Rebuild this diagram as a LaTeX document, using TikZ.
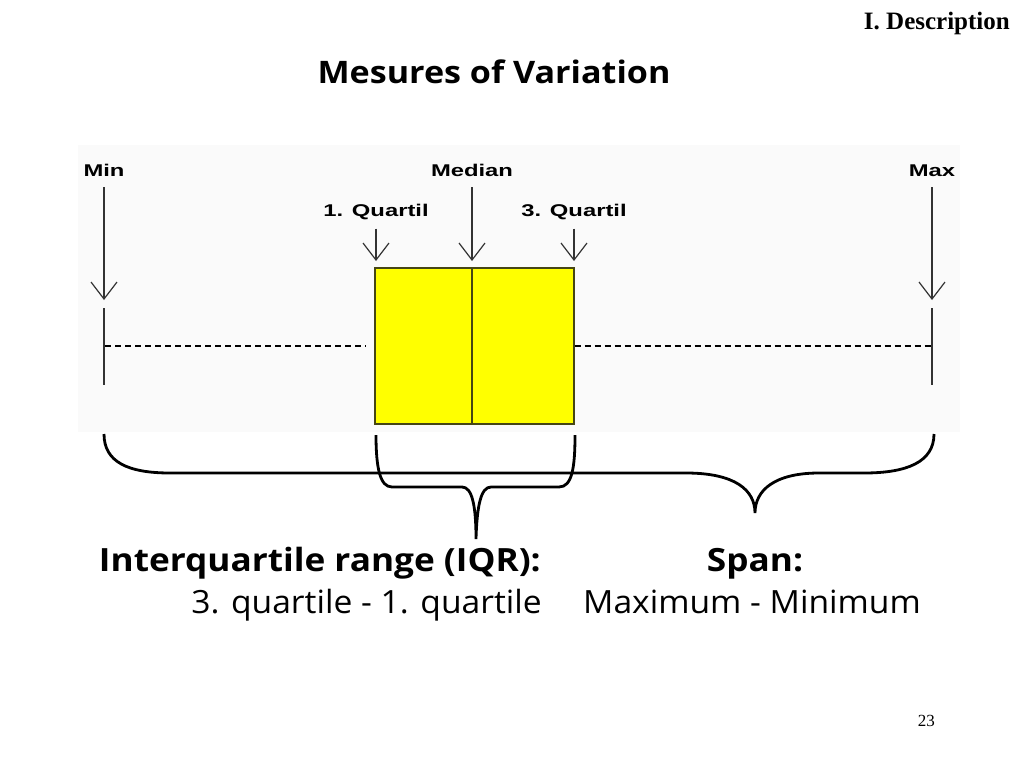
\documentclass[tikz,border=0pt]{standalone}
\usepackage{fontspec}
\setmainfont{Open Sans}
\newfontfamily\headfont[FakeStretch=1.1]{Open Sans}
\newfontfamily\bodyfont[FakeStretch=1.05]{Open Sans}
\newfontfamily\plotfont[FakeStretch=1.4]{Liberation Sans}
\newfontfamily\timesfont{Liberation Serif}
\usetikzlibrary{arrows.meta}
\definecolor{boxyellow}{RGB}{255,255,0}
\definecolor{boxline}{RGB}{70,70,20}
\tikzset{
  plotlabel/.style={font=\plotfont\bfseries\fontsize{17}{19}\selectfont, inner sep=0pt},
  pointer/.style={draw=black!80, line width=1.2pt, -{Straight Barb[length=17pt,width=26pt,line width=1.2pt]}},
  whisker/.style={draw=black!80, line width=1.4pt},
  brace/.style={draw=black, line width=2.8pt},
  bigtext/.style={font=\headfont\bfseries\fontsize{32}{36}\selectfont, inner sep=0pt},
  normtext/.style={font=\bodyfont\fontsize{32}{36}\selectfont, inner sep=0pt}
}
\begin{document}
\begin{tikzpicture}[x=1pt,y=-1pt]
    \useasboundingbox (0,0) rectangle (1024,768);
    % Hintergrund
    \fill[black!2] (78,145) rectangle (960,432);
    % Ueberschriften
    \node[font=\timesfont\bfseries\fontsize{25}{27}\selectfont, inner sep=0pt, anchor=base east] (chap) at (1010,30) {I. Description};
    \node[font=\headfont\bfseries\fontsize{31}{35}\selectfont, inner sep=0pt, anchor=base] (title) at (494,83) {Mesures of Variation};
    \node[font=\timesfont\fontsize{17}{19}\selectfont, inner sep=0pt, anchor=base east] (page) at (935,726) {23};
    % Beschriftungen
    \node[plotlabel, anchor=base] (min) at (104,176) {Min};
    \node[plotlabel, anchor=base] (med) at (472,176) {Median};
    \node[plotlabel, anchor=base] (q1) at (376,216) {1. Quartil};
    \node[plotlabel, anchor=base] (q3) at (574,216) {3. Quartil};
    \node[plotlabel, anchor=base] (max) at (932,176) {Max};
    % Pfeilspitzen
    \coordinate (mintip) at (104,300);
    \coordinate (medtip) at (472,261);
    \coordinate (q1tip) at (376,261);
    \coordinate (q3tip) at (574,261);
    \coordinate (maxtip) at (932,300);
    \draw[pointer] ([yshift=-11pt]min.south) -- (mintip);
    \draw[pointer] ([yshift=-11pt]med.south) -- (medtip);
    \draw[pointer] ([yshift=-9pt]q1.south) -- (q1tip);
    \draw[pointer] ([yshift=-9pt]q3.south) -- (q3tip);
    \draw[pointer] ([yshift=-11pt]max.south) -- (maxtip);
    % Box
    \node[draw=boxline, line width=1.3pt, fill=boxyellow, minimum width=199pt, minimum height=156pt, inner sep=0pt] (box) at (474.5,346) {};
    \draw[draw=boxline, line width=1.3pt] (472,268) -- (472,424);
    % Whisker
    \coordinate (minlo) at (104,385);
    \coordinate (maxlo) at (932,385);
    \coordinate (dashl) at (105,346);
    \coordinate (dashr) at (931,346);
    \draw[whisker] (104,308) -- (minlo);
    \draw[whisker] (932,308) -- (maxlo);
    \draw[black, line width=1.1pt, dash pattern=on 6pt off 4pt] (dashl) -- ([xshift=-9pt]box.west);
    \draw[black, line width=1.1pt, dash pattern=on 6pt off 4pt] (box.east) -- (dashr);
    % Klammern
    \draw[brace] (104,434) .. controls (104,462) and (128,473) .. (170,473) -- (686,473)
        .. controls (735,473) and (755,490) .. (755,513)
        .. controls (755,490) and (775,473) .. (819,473) -- (864,473)
        .. controls (907,473) and (934,462) .. (934,434);
    \draw[brace] (376,435) .. controls (376,468) and (380,487) .. (392,487) -- (462,487)
        .. controls (472,487) and (476,505) .. (476,539)
        .. controls (477,505) and (481,487) .. (491,487) -- (559,487)
        .. controls (572,487) and (575,468) .. (575,435);
    % Texte unten
    \node[bigtext, anchor=base east] (iqr) at (541,571) {Interquartile range (IQR):};
    \node[normtext, anchor=base east] (iqrdef) at (542,613) {3. quartile - 1. quartile};
    \node[bigtext, anchor=base] (span) at (755,571) {Span:};
    \node[normtext, anchor=base] (spandef) at (752,613) {Maximum - Minimum};
\end{tikzpicture}
\end{document}
